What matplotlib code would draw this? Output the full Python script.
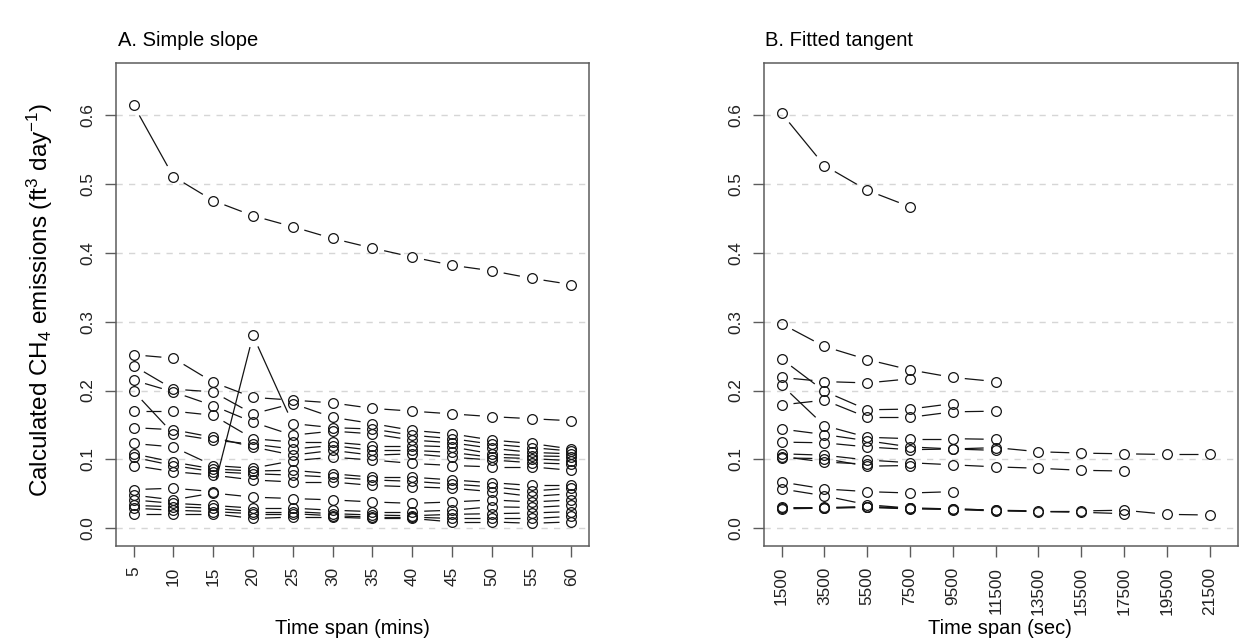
import numpy as np
import matplotlib
matplotlib.use("Agg")
import matplotlib.pyplot as plt

plt.rcParams['font.family'] = ['Liberation Sans', 'DejaVu Sans']
plt.rcParams['mathtext.default'] = 'regular'
plt.rcParams['lines.scale_dashes'] = False

nan = np.nan

# ---- A. Simple slope: emissions by time span (minutes) ----
mins = [5, 10, 15, 20, 25, 30, 35, 40, 45, 50, 55, 60]
slope_s01 = [0.615, 0.511, 0.476, 0.454, 0.438, 0.421, 0.407, 0.394, 0.382, 0.374, 0.363, 0.354]
slope_s02 = [0.252, 0.247, 0.212, 0.190, 0.186, 0.182, 0.174, 0.170, 0.166, 0.162, 0.159, 0.156]
slope_s03 = [0.236, 0.202, 0.198, 0.166, 0.181, 0.161, 0.152, 0.142, 0.137, 0.128, 0.123, 0.115]
slope_s04 = [0.215, 0.198, 0.178, 0.154, 0.135, 0.141, 0.137, 0.128, 0.124, 0.116, 0.110, 0.108]
slope_s05 = [0.199, 0.137, 0.128, 0.122, 0.115, 0.120, 0.113, 0.113, 0.110, 0.103, 0.101, 0.098]
slope_s06 = [0.170, 0.170, 0.164, 0.130, 0.125, 0.125, 0.120, 0.120, 0.118, 0.108, 0.105, 0.104]
slope_s07 = [0.146, 0.143, 0.132, 0.118, 0.106, 0.113, 0.106, 0.108, 0.103, 0.099, 0.095, 0.093]
slope_s08 = [0.123, 0.118, 0.091, 0.087, 0.098, 0.103, 0.099, 0.094, 0.091, 0.089, 0.089, 0.084]
slope_s09 = [0.108, 0.096, 0.086, 0.083, 0.084, 0.079, 0.074, 0.074, 0.070, 0.066, 0.062, 0.062]
slope_s10 = [0.103, 0.091, 0.082, 0.079, 0.077, 0.074, 0.070, 0.068, 0.064, 0.060, 0.054, 0.058]
slope_s11 = [0.091, 0.082, 0.077, 0.070, 0.067, 0.067, 0.062, 0.060, 0.058, 0.053, 0.046, 0.050]
slope_s12 = [0.056, 0.058, 0.053, 0.280, 0.152, 0.146, 0.144, 0.135, 0.130, 0.122, 0.117, 0.112]
slope_s13 = [0.048, 0.041, 0.051, 0.045, 0.043, 0.041, 0.038, 0.036, 0.038, 0.041, 0.038, 0.041]
slope_s14 = [0.041, 0.036, 0.033, 0.029, 0.029, 0.026, 0.024, 0.024, 0.026, 0.031, 0.030, 0.033]
slope_s15 = [0.033, 0.031, 0.029, 0.024, 0.024, 0.021, 0.019, 0.018, 0.020, 0.021, 0.022, 0.024]
slope_s16 = [0.029, 0.026, 0.024, 0.021, 0.021, 0.018, 0.016, 0.016, 0.014, 0.014, 0.014, 0.017]
slope_s17 = [0.021, 0.021, 0.021, 0.014, 0.016, 0.016, 0.014, 0.014, 0.009, 0.009, 0.007, 0.009]
simple_slope = [slope_s01, slope_s02, slope_s03, slope_s04, slope_s05, slope_s06,
                slope_s07, slope_s08, slope_s09, slope_s10, slope_s11, slope_s12,
                slope_s13, slope_s14, slope_s15, slope_s16, slope_s17]

# ---- B. Fitted tangent: emissions by time span (seconds) ----
secs = [1500, 3500, 5500, 7500, 9500, 11500, 13500, 15500, 17500, 19500, 21500]
tan_s01 = [0.603, 0.527, 0.491, 0.467, nan, nan, nan, nan, nan, nan, nan]
tan_s02 = [0.297, 0.264, 0.245, 0.230, 0.219, 0.213, nan, nan, nan, nan, nan]
tan_s03 = [0.219, 0.213, 0.211, 0.217, nan, nan, nan, nan, nan, nan, nan]
tan_s04 = [0.246, 0.199, 0.172, 0.173, 0.181, nan, nan, nan, nan, nan, nan]
tan_s05 = [0.179, 0.186, 0.161, 0.161, 0.169, 0.170, nan, nan, nan, nan, nan]
tan_s06 = [0.208, 0.149, 0.132, 0.130, 0.130, 0.129, nan, nan, nan, nan, nan]
tan_s07 = [0.144, 0.136, 0.127, 0.118, 0.115, 0.117, 0.111, 0.109, 0.108, 0.107, 0.107]
tan_s08 = [0.125, 0.124, 0.118, 0.114, 0.115, 0.113, nan, nan, nan, nan, nan]
tan_s09 = [0.108, 0.106, 0.099, 0.095, 0.092, 0.089, 0.087, 0.084, 0.083, nan, nan]
tan_s10 = [0.102, 0.101, 0.090, 0.091, nan, nan, nan, nan, nan, nan, nan]
tan_s11 = [0.104, 0.096, 0.093, nan, nan, nan, nan, nan, nan, nan, nan]
tan_s12 = [0.067, 0.057, 0.053, 0.051, 0.053, nan, nan, nan, nan, nan, nan]
tan_s13 = [0.057, 0.047, 0.034, 0.029, nan, nan, nan, nan, nan, nan, nan]
tan_s14 = [0.030, 0.029, 0.031, 0.029, 0.028, 0.026, 0.025, 0.025, 0.026, 0.020, 0.019]
tan_s15 = [0.028, 0.029, 0.030, 0.028, 0.027, 0.025, 0.024, 0.023, 0.021, nan, nan]
tan_s16 = [0.029, 0.030, 0.031, 0.029, 0.028, 0.026, nan, nan, nan, nan, nan]
fitted_tangent = [tan_s01, tan_s02, tan_s03, tan_s04, tan_s05, tan_s06, tan_s07, tan_s08,
                  tan_s09, tan_s10, tan_s11, tan_s12, tan_s13, tan_s14, tan_s15, tan_s16]

y_ticks = [0.0, 0.1, 0.2, 0.3, 0.4, 0.5, 0.6]
y_tick_labels = ["0.0", "0.1", "0.2", "0.3", "0.4", "0.5", "0.6"]

INK = "#141414"
FRAME = "#5c5c5c"
GAP_PX = 12.0


def overplot(ax, x, y):
    """Points joined by line segments that stop short of each point."""
    x = np.asarray(x, float)
    y = np.asarray(y, float)
    ok = ~np.isnan(y)
    pts = ax.transData.transform(np.column_stack([x, np.where(ok, y, 0.0)]))
    inv = ax.transData.inverted()
    for i in range(len(x) - 1):
        if not (ok[i] and ok[i + 1]):
            continue
        p0, p1 = pts[i], pts[i + 1]
        d = p1 - p0
        length = np.hypot(d[0], d[1])
        if length <= 2 * GAP_PX:
            continue
        u = d / length
        a = inv.transform(p0 + u * GAP_PX)
        b = inv.transform(p1 - u * GAP_PX)
        ax.plot([a[0], b[0]], [a[1], b[1]], color=INK, lw=0.9,
                solid_capstyle="butt", zorder=3)
    ax.plot(x[ok], y[ok], ls="none", marker="o", ms=7.0, mfc="none",
            mec=INK, mew=0.9, zorder=4)


def style_axes(ax):
    for sp in ax.spines.values():
        sp.set_color(FRAME)
        sp.set_linewidth(1.1)
    ax.set_ylim(-0.026, 0.676)
    ax.set_yticks(y_ticks)
    ax.set_yticklabels(y_tick_labels, rotation=90, va="center")
    ax.tick_params(axis="both", direction="out", length=8, width=1.0,
                   color=FRAME, labelsize=12.4, labelcolor="#222222", pad=7)
    ax.yaxis.grid(True, ls=(0, (4.5, 4.5)), color="#d6d6d6", lw=1.0)
    ax.set_axisbelow(True)


fig = plt.figure(figsize=(12.39, 6.43), dpi=100)
W, H = 1239.0, 643.0

ax_a = fig.add_axes([116 / W, (H - 546) / H, 473 / W, 483 / H])
ax_b = fig.add_axes([764 / W, (H - 546) / H, 474 / W, 483 / H])

# panel A
style_axes(ax_a)
ax_a.set_xlim(2.8, 62.2)
ax_a.set_xticks(mins)
ax_a.set_xticklabels([str(m) for m in mins], rotation=90, ha="center", va="top")
for series in simple_slope:
    overplot(ax_a, mins, series)

# panel B
style_axes(ax_b)
ax_b.set_xlim(680, 22820)
ax_b.set_xticks(secs)
ax_b.set_xticklabels([str(s) for s in secs], rotation=90, ha="center", va="top")
for series in fitted_tangent:
    overplot(ax_b, secs, series)

# titles and axis labels
fig.text(118 / W, 1 - 41 / H, "A. Simple slope", fontsize=14.5, ha="left", va="center")
fig.text(765 / W, 1 - 41 / H, "B. Fitted tangent", fontsize=14.5, ha="left", va="center")
fig.text(352 / W, 1 - 628 / H, "Time span (mins)", fontsize=14.5, ha="center", va="center")
fig.text(1000 / W, 1 - 628 / H, "Time span (sec)", fontsize=14.5, ha="center", va="center")
fig.text(40 / W, 1 - 300 / H, r"Calculated CH$_4$ emissions (ft$^3$ day$^{-1}$)",
         fontsize=17.5, rotation=90, ha="center", va="center")

fig.savefig("out.png", dpi=100)
